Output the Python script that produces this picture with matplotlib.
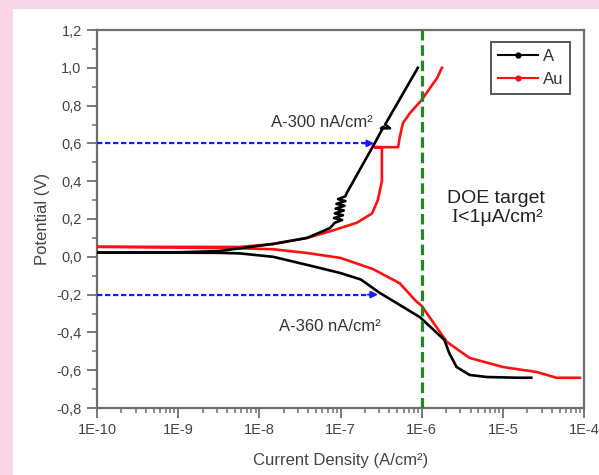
import numpy as np
import matplotlib
matplotlib.use("Agg")
import matplotlib.pyplot as plt
from matplotlib.patches import Rectangle
from matplotlib.ticker import FuncFormatter, LogLocator, MultipleLocator, NullFormatter

plt.rcParams['font.family'] = ['Liberation Sans', 'DejaVu Sans']

# ---- data (log10 of current density, potential in V) ----
a_cath_logI = [-10, -9, -8.5, -8.24, -7.83, -7.41, -7.0, -6.75, -6.52, -6.25, -6.02,
               -5.72, -5.66, -5.57, -5.41, -5.2, -4.8, -4.65]
a_cath_V = [0.022, 0.022, 0.021, 0.018, 0.0, -0.043, -0.086, -0.12, -0.19, -0.26, -0.32,
            -0.44, -0.51, -0.583, -0.625, -0.636, -0.64, -0.64]

a_anod_logI = [-10, -9, -8.5, -8.24, -7.83, -7.41, -7.13, -7.07,
               -6.98, -7.08, -6.97, -7.07, -6.96, -7.06, -6.95, -7.05, -6.94, -7.03, -6.94,
               -6.92, -6.58, -6.47, -6.50, -6.39, -6.45, -6.047]
a_anod_V = [0.022, 0.024, 0.03, 0.045, 0.068, 0.1, 0.152, 0.18,
            0.195, 0.205, 0.22, 0.23, 0.245, 0.255, 0.27, 0.28, 0.295, 0.305, 0.32,
            0.34, 0.6, 0.688, 0.68, 0.68, 0.70, 1.0]

au_cath_logI = [-10, -8.24, -7.83, -7.41, -7.0, -6.6, -6.27, -6.08, -6.0, -5.69, -5.41,
                -5.0, -4.58, -4.34, -4.05]
au_cath_V = [0.053, 0.045, 0.04, 0.02, -0.006, -0.065, -0.14, -0.23, -0.26, -0.45, -0.535,
             -0.583, -0.61, -0.64, -0.64]

au_anod_logI = [-10, -8.24, -7.83, -7.41, -7.09, -6.8, -6.61, -6.54, -6.49, -6.49, -6.58,
                -6.29, -6.27, -6.23, -6.145, -6.0, -5.81, -5.75]
au_anod_V = [0.053, 0.052, 0.068, 0.1, 0.14, 0.18, 0.23, 0.30, 0.40, 0.58, 0.58,
             0.58, 0.634, 0.708, 0.76, 0.83, 0.946, 1.0]

arrow_V = [0.6, -0.2]
arrow_tip_I = [2.6e-7, 2.9e-7]
arrow_labels = ['A-300 nA/cm²', 'A-360 nA/cm²']
target_I = 1e-6

x_ticks = [1e-10, 1e-9, 1e-8, 1e-7, 1e-6, 1e-5, 1e-4]
y_ticks = [-0.8, -0.6, -0.4, -0.2, 0.0, 0.2, 0.4, 0.6, 0.8, 1.0, 1.2]

# ---- figure ----
fig = plt.figure(figsize=(5.99, 4.75), dpi=100)
fig.patch.set_facecolor('#f8d6e7')
fig.patches.append(Rectangle((13/599, 0), 1 - 13/599, 1 - 9/475, transform=fig.transFigure,
                             facecolor='white', edgecolor='none', zorder=-10))
ax = fig.add_axes([97/599, 1 - 408/475, (584-97)/599, (408-30)/475])
ax.set_zorder(1)
ax.set_xscale('log')
ax.set_xlim(1e-10, 1e-4)
ax.set_ylim(-0.8, 1.2)

def I(l):
    return 10 ** np.asarray(l, dtype=float)

kw = dict(lw=1.9, solid_joinstyle='round')
ax.plot(I(a_cath_logI), a_cath_V, color='black', zorder=4, **kw)
ax.plot(I(a_anod_logI), a_anod_V, color='black', zorder=4, label='A', **kw)
ax.plot(I(au_cath_logI), au_cath_V, color='#ff1010', zorder=3, **kw)
ax.plot(I(au_anod_logI), au_anod_V, color='#ff1010', zorder=3, label='Au', **kw)

# target line
ax.axvline(target_I, color='#1f8a1f', lw=2.3, linestyle=(0, (3.3, 1.5)), zorder=5)

# blue arrows
blue = '#1a1aff'
for v, tip in zip(arrow_V, arrow_tip_I):
    ax.plot([1e-10, tip * 0.85], [v, v], color=blue, lw=1.6, linestyle=(0, (2.4, 1.2)), zorder=6)
    ax.annotate('', xy=(tip, v), xytext=(tip * 0.75, v),
                arrowprops=dict(arrowstyle='-|>', color=blue, lw=1.4, mutation_scale=10,
                                shrinkA=0, shrinkB=0), zorder=6)

ax.text(10 ** -7.23, 0.713, arrow_labels[0], ha='center', va='center', fontsize=12, color='#333333')
ax.text(10 ** -7.137, -0.371, arrow_labels[1], ha='center', va='center', fontsize=12, color='#333333')

ax.text(10 ** -5.69, 0.311, 'DOE target', ha='left', va='center', fontsize=14, color='#222222')
t1 = ax.text(10 ** -5.63, 0.21, 'I', ha='left', va='center', fontsize=14, color='#222222',
             family=['Liberation Serif'])
ax.annotate('<1μA/cm²', xy=(1, 0.5), xycoords=t1, ha='left', va='center', fontsize=14,
            color='#222222')

# axes styling
for s in ax.spines.values():
    s.set_color('#6e6e6e')
    s.set_linewidth(1.6)
ax.set_xticks(x_ticks)
ax.xaxis.set_minor_locator(LogLocator(base=10, subs=np.arange(2, 10), numticks=20))
ax.xaxis.set_minor_formatter(NullFormatter())
ax.xaxis.set_major_formatter(FuncFormatter(lambda v, p: f"1E{int(round(np.log10(v)))}"))
ax.set_yticks(y_ticks)
ax.yaxis.set_minor_locator(MultipleLocator(0.1))
ax.yaxis.set_major_formatter(FuncFormatter(lambda v, p: f"{v:.1f}".replace('.', ',').replace('-0,0', '0,0')))
ax.tick_params(which='major', direction='out', length=7, width=1.3, color='#6e6e6e',
               labelsize=10.5, labelcolor='#444444', pad=4)
ax.tick_params(which='minor', direction='out', length=3.5, width=1.1, color='#6e6e6e')

ax.set_xlabel('Current Density (A/cm²)', fontsize=12, color='#444444', labelpad=11)
ax.set_ylabel('Potential (V)', fontsize=12, color='#444444', labelpad=5)

leg = ax.legend(loc='upper right', bbox_to_anchor=(0.971, 0.968), borderaxespad=0,
                fontsize=12, handlelength=2.4, numpoints=1, fancybox=False, framealpha=1,
                edgecolor='#555555', borderpad=0.4, labelspacing=0.5, handletextpad=0.3)
leg.get_frame().set_linewidth(1.4)
for t in leg.get_texts():
    t.set_color('#333333')
for h in leg.legend_handles:
    h.set_marker('o')
    h.set_markersize(3.5)
    h.set_linewidth(1.5)

fig.savefig('out.png', dpi=100, facecolor=fig.get_facecolor())
